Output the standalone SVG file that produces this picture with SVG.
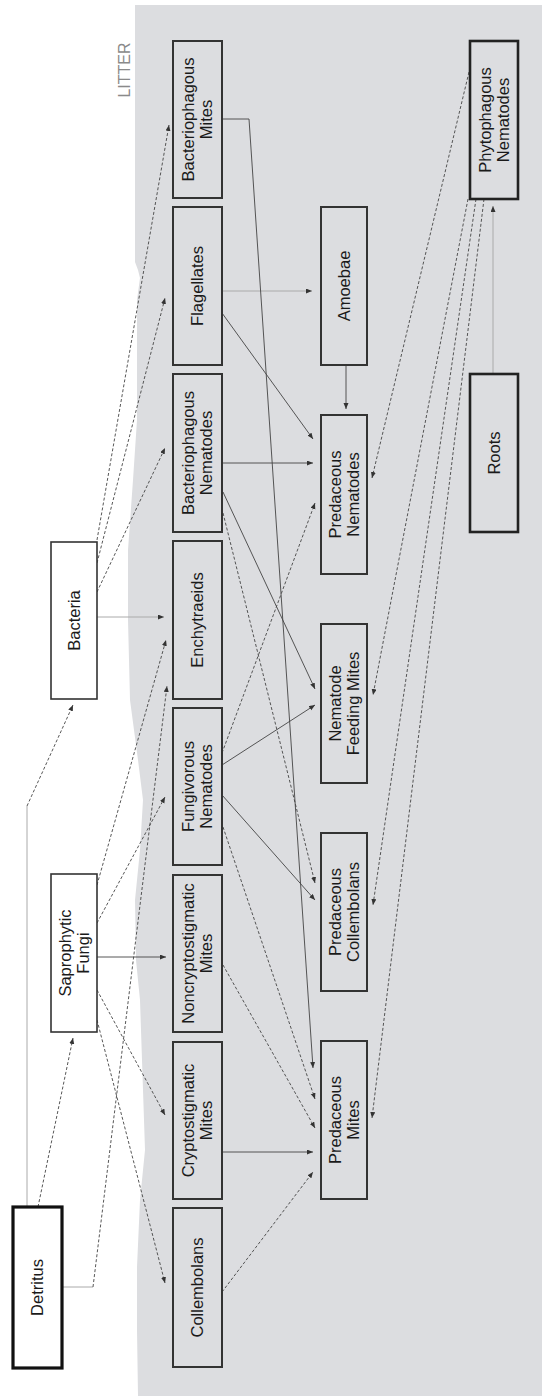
<svg xmlns="http://www.w3.org/2000/svg" width="542" height="1396" viewBox="0 0 542 1396">
<style>
.bg{fill:#dcdde0;stroke:none}
.box{fill:#dcdde0;stroke:#333;stroke-width:2}
.wbox{fill:#fff;stroke:#333;stroke-width:1.6}
.thick{fill:#fff;stroke:#111;stroke-width:3.2}
.gthick{fill:#dcdde0;stroke:#222;stroke-width:2.6}
.t{font-family:"Liberation Sans",Arial,sans-serif;font-size:16.5px;fill:#1a1a1a;text-anchor:middle}
.lit{font-family:"Liberation Sans",Arial,sans-serif;font-size:16px;fill:#8a8a8a;text-anchor:middle}
.c{fill:none;stroke:#444;stroke-width:0.9}
.d{fill:none;stroke:#444;stroke-width:0.9;stroke-dasharray:3 2}
.g{fill:none;stroke:#aaa;stroke-width:1}
.a{marker-end:url(#ah)}
</style>
<defs>
<marker id="ah" markerUnits="userSpaceOnUse" markerWidth="7" markerHeight="6" refX="6" refY="2.5" orient="auto">
<path d="M0,0 L6,2.5 L0,5 Z" fill="#333"/>
</marker>
</defs>
<rect x="0" y="0" width="542" height="1396" fill="#fff"/>
<path class="bg" d="M135,5 H542 V1396 H138 L137,1330 L137,1267 L140,1200 L145,1150 L143,1090 L140,1000 L136,960 L135,900 L140,850 L143,800 L138,760 L130,700 L128,620 L128,550 L133,480 L137,420 L137,350 L137,300 L140,278 L138,270 L135,262 Z"/>
<text class="lit" transform="translate(124,70) rotate(-90)" y="6">LITTER</text>

<g id="connectors">
<path class="g" d="M27,1207 V806"/>
<path class="d a" d="M27,806 L73,705"/>
<path class="d a" d="M38,1207 L73,1038"/>
<path class="g" d="M62,1287 H93"/>
<path class="d a" d="M93,1287 L167,686"/>
<path class="d a" d="M97,885 L166,640"/>
<path class="d a" d="M97,923 L165,797"/>
<path class="c a" d="M97,957 H166"/>
<path class="d a" d="M97,990 L165,1115"/>
<path class="d a" d="M97,1020 L165,1283"/>
<path class="d a" d="M97,540 L169,125"/>
<path class="d a" d="M97,563 L165,298"/>
<path class="d a" d="M97,592 L165,448"/>
<path class="g a" d="M97,617 H164"/>
<path class="g a" d="M222,291 H312"/>
<path class="c a" d="M222,313 L313,439"/>
<path class="c a" d="M222,463 H313"/>
<path class="c a" d="M223,492 L315,689"/>
<path class="d a" d="M223,513 L315,883"/>
<path class="c a" d="M222,119 H249 L313,1068"/>
<path class="d a" d="M222,753 L315,503"/>
<path class="c a" d="M222,765 L315,705"/>
<path class="c a" d="M222,795 L315,900"/>
<path class="d a" d="M223,827 L315,1099"/>
<path class="d a" d="M223,965 L315,1128"/>
<path class="c a" d="M222,1152 H313"/>
<path class="d a" d="M222,1292 L313,1172"/>
<path class="c a" d="M346,365 V409"/>
<path class="g a" d="M493,374 V206"/>
<path class="d a" d="M469,72 L372,478"/>
<path class="d a" d="M468,199 L373,695"/>
<path class="d a" d="M476,199 L373,905"/>
<path class="d a" d="M484,199 L372,1118"/>
</g>

<g id="detritus"><rect class="thick" x="13" y="1207" width="49" height="161"/>
<text class="t" transform="translate(37.5,1287.5) rotate(-90)" y="5.9">Detritus</text></g>

<g id="saprophytic-fungi"><rect class="wbox" x="51" y="874" width="46" height="158"/>
<text class="t" transform="translate(74,953) rotate(-90)"><tspan x="0" y="-3.1">Saprophytic</tspan><tspan x="0" y="14.9">Fungi</tspan></text></g>

<g id="bacteria"><rect class="wbox" x="51" y="542" width="46" height="157"/>
<text class="t" transform="translate(74,620.5) rotate(-90)" y="5.9">Bacteria</text></g>

<g id="bacteriophagous-mites"><rect class="box" x="173" y="41" width="49" height="157"/>
<text class="t" transform="translate(197.5,119.5) rotate(-90)"><tspan x="0" y="-3.1">Bacteriophagous</tspan><tspan x="0" y="14.9">Mites</tspan></text></g>

<g id="flagellates"><rect class="box" x="173" y="207" width="49" height="158"/>
<text class="t" transform="translate(197.5,286) rotate(-90)" y="5.9">Flagellates</text></g>

<g id="bacteriophagous-nematodes"><rect class="box" x="173" y="374" width="49" height="158"/>
<text class="t" transform="translate(197.5,453) rotate(-90)"><tspan x="0" y="-3.1">Bacteriophagous</tspan><tspan x="0" y="14.9">Nematodes</tspan></text></g>

<g id="enchytraeids"><rect class="box" x="173" y="541" width="49" height="158"/>
<text class="t" transform="translate(197.5,620) rotate(-90)" y="5.9">Enchytraeids</text></g>

<g id="fungivorous-nematodes"><rect class="box" x="173" y="708" width="49" height="157"/>
<text class="t" transform="translate(197.5,786.5) rotate(-90)"><tspan x="0" y="-3.1">Fungivorous</tspan><tspan x="0" y="14.9">Nematodes</tspan></text></g>

<g id="noncryptostigmatic-mites"><rect class="box" x="173" y="875" width="49" height="157"/>
<text class="t" transform="translate(197.5,953.5) rotate(-90)"><tspan x="0" y="-3.1">Noncryptostigmatic</tspan><tspan x="0" y="14.9">Mites</tspan></text></g>

<g id="cryptostigmatic-mites"><rect class="box" x="173" y="1042" width="49" height="157"/>
<text class="t" transform="translate(197.5,1120.5) rotate(-90)"><tspan x="0" y="-3.1">Cryptostigmatic</tspan><tspan x="0" y="14.9">Mites</tspan></text></g>

<g id="collembolans"><rect class="box" x="173" y="1208" width="49" height="159"/>
<text class="t" transform="translate(197.5,1287.5) rotate(-90)" y="5.9">Collembolans</text></g>

<g id="amoebae"><rect class="box" x="321" y="207" width="46" height="158"/>
<text class="t" transform="translate(344,286) rotate(-90)" y="5.9">Amoebae</text></g>

<g id="predaceous-nematodes"><rect class="box" x="321" y="415" width="46" height="159"/>
<text class="t" transform="translate(344,494.5) rotate(-90)"><tspan x="0" y="-3.1">Predaceous</tspan><tspan x="0" y="14.9">Nematodes</tspan></text></g>

<g id="nematode-feeding-mites"><rect class="box" x="321" y="624" width="46" height="159"/>
<text class="t" transform="translate(344,703.5) rotate(-90)"><tspan x="0" y="-3.1">Nematode</tspan><tspan x="0" y="14.9">Feeding Mites</tspan></text></g>

<g id="predaceous-collembolans"><rect class="box" x="321" y="833" width="46" height="158"/>
<text class="t" transform="translate(344,912) rotate(-90)"><tspan x="0" y="-3.1">Predaceous</tspan><tspan x="0" y="14.9">Collembolans</tspan></text></g>

<g id="predaceous-mites"><rect class="box" x="321" y="1041" width="46" height="158"/>
<text class="t" transform="translate(344,1120) rotate(-90)"><tspan x="0" y="-3.1">Predaceous</tspan><tspan x="0" y="14.9">Mites</tspan></text></g>

<g id="phytophagous-nematodes"><rect class="gthick" x="470" y="41" width="48" height="158"/>
<text class="t" transform="translate(494,120) rotate(-90)"><tspan x="0" y="-3.1">Phytophagous</tspan><tspan x="0" y="14.9">Nematodes</tspan></text></g>

<g id="roots"><rect class="gthick" x="470" y="374" width="48" height="158"/>
<text class="t" transform="translate(494,453) rotate(-90)" y="5.9">Roots</text></g>
</svg>
